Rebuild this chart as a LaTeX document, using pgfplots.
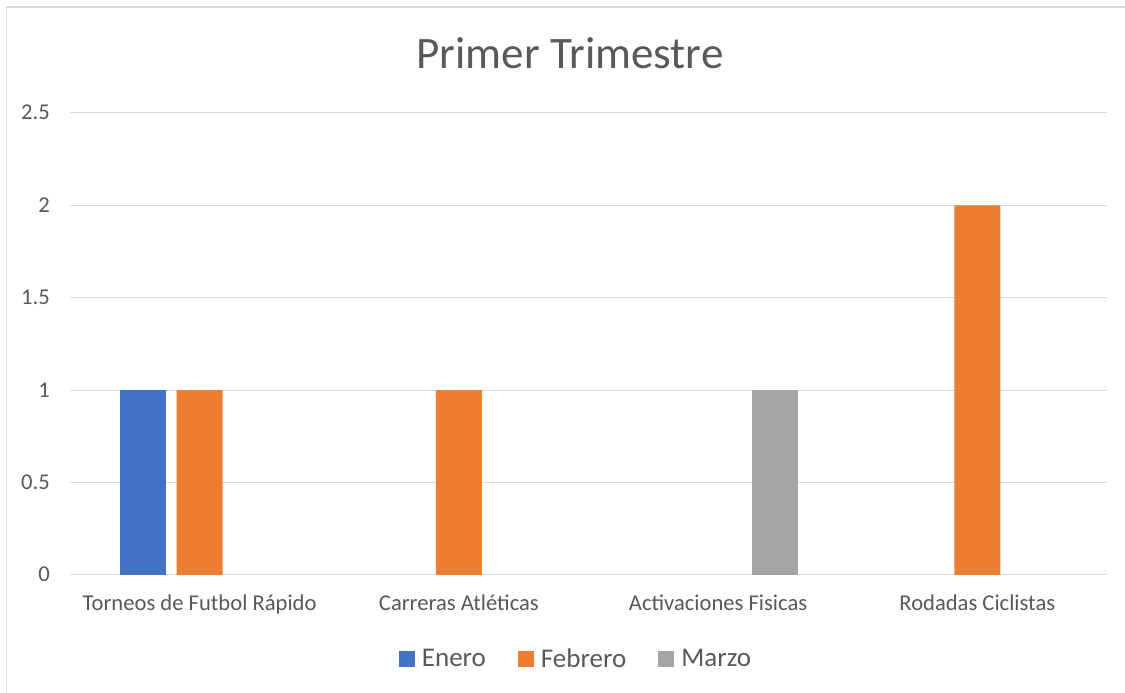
\documentclass[border=0pt]{standalone}
\usepackage{fontspec}
\setmainfont{Carlito}
\usepackage{pgfplots}
\pgfplotsset{compat=1.18}
\definecolor{enero}{HTML}{4472C4}
\definecolor{febrero}{HTML}{ED7D31}
\definecolor{marzo}{HTML}{A5A5A5}
\definecolor{txt}{HTML}{595959}
\definecolor{gridc}{HTML}{D9D9D9}
\pgfplotsset{sqlegend/.style={legend image code/.code={\fill[##1,draw=none] (0bp,-8bp) rectangle (16bp,8bp);}}}
\begin{document}
\begin{tikzpicture}[x=1bp,y=1bp]
\useasboundingbox (0,0) rectangle (1125,693);
\fill[white] (0,0) rectangle (1125,693);
\draw[gridc, line width=1.5bp] (6.5,-10) -- (6.5,686) -- (1140,686);
\node[anchor=base, text=txt, font=\fontsize{45bp}{52bp}\selectfont, inner sep=0pt] at (570,624) {Primer Trimestre};
\begin{axis}[
  at={(70bp,118bp)}, anchor=south west,
  scale only axis, width=1037bp, height=462bp,
  xmin=0.5, xmax=4.5, ymin=0, ymax=2.5,
  ybar=11bp, bar width=46bp,
  xtick={1,2,3,4},
  xticklabels={Torneos de Futbol Rápido,Carreras Atléticas,Activaciones Fisicas,Rodadas Ciclistas},
  ytick={0,0.5,1,1.5,2,2.5},
  yticklabels={0,0.5,1,1.5,2,2.5},
  axis line style={draw=none},
  major tick length=0pt, tick style={draw=none},
  ymajorgrids, grid style={gridc, line width=1bp},
  xticklabel style={anchor=base, yshift=-36bp, inner sep=0pt, text=txt, font=\fontsize{22.6bp}{26bp}\selectfont},
  yticklabel style={anchor=base east, xshift=-20bp, yshift=-7bp, inner sep=0pt, text=txt, font=\fontsize{22.6bp}{26bp}\selectfont},
  legend columns=3,
  legend style={draw=none, fill=none, inner sep=0pt, text=txt, font=\fontsize{27bp}{31bp}\selectfont,
    at={(rel axis cs:0.487,-0.1818)}, anchor=center,
    nodes={inner sep=0pt},
    /tikz/every odd column/.append style={column sep=7bp},
    /tikz/every even column/.append style={column sep=32bp}},
]
\addplot[fill=enero, draw=none, sqlegend] coordinates {(1,1)};
\addplot[fill=febrero, draw=none, sqlegend] coordinates {(1,1) (2,1) (4,2)};
\addplot[fill=marzo, draw=none, sqlegend] coordinates {(3,1)};
\legend{Enero,Febrero,Marzo}
\end{axis}
\end{tikzpicture}
\end{document}
